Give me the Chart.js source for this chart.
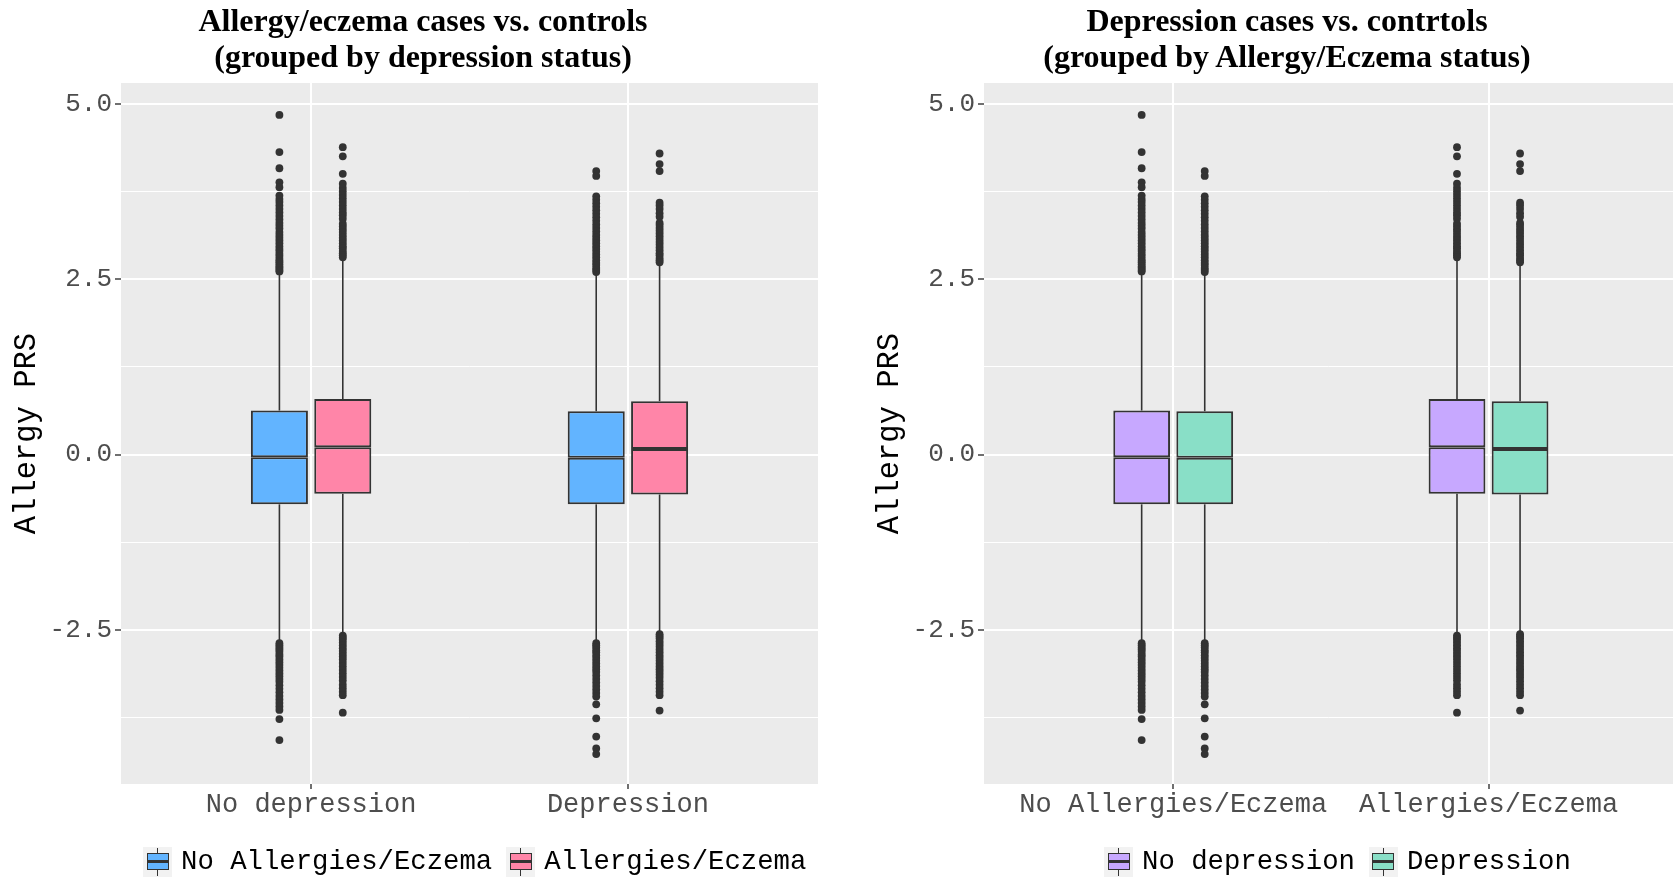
<!DOCTYPE html>
<html>
<head>
<meta charset="utf-8">
<title>Allergy PRS box plots</title>
<script src="https://cdn.jsdelivr.net/npm/chart.js@4.4.1/dist/chart.umd.min.js"></script>
<style>
  html, body { margin: 0; padding: 0; background: #ffffff; width: 1677px; height: 879px; overflow: hidden; }
  body { position: relative; }
  canvas { position: absolute; top: 0; }
  #leftChart { left: 0; }
  #rightChart { left: 863px; }
  .title {
    position: absolute; top: 2px; width: 800px; text-align: center;
    font-family: "Liberation Serif", "Times New Roman", serif; font-weight: bold;
    font-size: 32px; line-height: 36px; color: #000;
  }
  .legend {
    position: absolute; top: 847px; display: flex; align-items: flex-start;
    font-family: "Liberation Mono", monospace; font-size: 27.3px; line-height: 30px;
    color: #000; white-space: nowrap;
  }
  .item { display: flex; align-items: flex-start; margin-right: 14px; }
  .key { position: relative; width: 29px; height: 30px; background: #F2F2F2; margin-right: 9px; flex: none; }
  .key .wh { position: absolute; left: 13.8px; top: 1px; width: 1.4px; height: 28px; background: #333333; }
  .key .bx { position: absolute; left: 3.5px; top: 6px; width: 22px; height: 17px; box-sizing: border-box; border: 1.5px solid #333333; }
  .key .md { position: absolute; left: 3.5px; top: 13.3px; width: 22px; height: 2.6px; background: #333333; }
</style>
</head>
<body>
<canvas id="leftChart" width="838" height="879"></canvas>
<canvas id="rightChart" width="814" height="879"></canvas>
<div class="title" id="leftTitle" style="left:23px"></div>
<div class="title" id="rightTitle" style="left:887px"></div>
<div class="legend" id="leftLegend" style="left:143px"></div>
<div class="legend" id="rightLegend" style="left:1104px"></div>

<script>
// ---- Group labels -------------------------------------------------------
const depressionGroups = ['No depression', 'Depression'];
const allergyGroups = ['No Allergies/Eczema', 'Allergies/Eczema'];

// ---- Allergy PRS summaries: [lower whisker, Q1, median, Q3, upper whisker]
const noAllergyNoDep = [-2.66, -0.71, -0.038, 0.627, 2.58];
const allergyNoDep   = [-2.57, -0.56, 0.104, 0.79, 2.80];
const noAllergyDep   = [-2.68, -0.71, -0.047, 0.617, 2.58];
const allergyDep     = [-2.55, -0.57, 0.08, 0.76, 2.73];

// ---- Outlying PRS values beyond the whiskers ----------------------------
const noAllergyNoDepOut = [
  4.84, 4.31, 4.08, 3.88, 3.81, 3.69, 3.64, 3.60, 3.55, 3.50, 3.45, 3.40, 3.35,
  3.30, 3.26, 3.22, 3.17, 3.13, 3.09, 3.05, 3.01, 2.97, 2.93, 2.90, 2.86, 2.83,
  2.79, 2.76, 2.74, 2.71, 2.68, 2.66, 2.63, 2.61,
  -2.69, -2.72, -2.75, -2.78, -2.81, -2.85, -2.88, -2.92, -2.96, -3.00, -3.04,
  -3.08, -3.12, -3.16, -3.20, -3.24, -3.29, -3.34, -3.39, -3.44, -3.49, -3.54,
  -3.59, -3.64, -3.77, -4.07
];
const allergyNoDepOut = [
  4.38, 4.25, 4.00, 3.86, 3.80, 3.75, 3.70, 3.65, 3.60, 3.55, 3.50, 3.45, 3.41,
  3.36, 3.29, 3.25, 3.21, 3.17, 3.13, 3.09, 3.05, 3.01, 2.97, 2.94, 2.90, 2.87,
  2.84, 2.81,
  -2.58, -2.61, -2.64, -2.68, -2.72, -2.76, -2.80, -2.84, -2.88, -2.92, -2.97,
  -3.02, -3.07, -3.12, -3.17, -3.22, -3.28, -3.33, -3.38, -3.43, -3.68
];
const noAllergyDepOut = [
  4.04, 3.97, 3.68, 3.63, 3.58, 3.53, 3.48, 3.43, 3.38, 3.33, 3.28, 3.23, 3.18,
  3.13, 3.09, 3.05, 3.01, 2.97, 2.93, 2.89, 2.85, 2.81, 2.77, 2.73, 2.70, 2.66,
  2.63, 2.60,
  -2.69, -2.72, -2.75, -2.79, -2.82, -2.86, -2.90, -2.94, -2.98, -3.02, -3.06,
  -3.10, -3.15, -3.20, -3.25, -3.30, -3.35, -3.40, -3.45, -3.56, -3.76, -4.02,
  -4.19, -4.27
];
const allergyDepOut = [
  4.29, 4.14, 4.04, 3.59, 3.55, 3.50, 3.44, 3.39, 3.30, 3.27, 3.23, 3.19, 3.15,
  3.11, 3.07, 3.03, 2.99, 2.95, 2.91, 2.87, 2.84, 2.80, 2.77, 2.74,
  -2.56, -2.59, -2.62, -2.66, -2.70, -2.74, -2.78, -2.82, -2.86, -2.90, -2.94,
  -2.98, -3.02, -3.06, -3.10, -3.14, -3.18, -3.23, -3.28, -3.33, -3.38, -3.43,
  -3.65
];

// ---- Y axis ticks (major labelled, minor unlabelled) ----------------------
const yGridValues = [-3.75, -2.5, -1.25, 0, 1.25, 2.5, 3.75, 5];
const yLabelValues = [-2.5, 0, 2.5, 5];

// ---- Fill colours --------------------------------------------------------
const allergyColors = ['#62B4FF', '#FF85A8'];      // No Allergies/Eczema, Allergies/Eczema
const depressionColors = ['#C7A8FF', '#89DFC7'];   // No depression, Depression

const DODGE = 0.1;          // half the distance between paired boxes (x units)
const INK = '#333333';
const MONO = "'Liberation Mono', monospace";

function isMajor(v) { return yLabelValues.some(m => Math.abs(m - v) < 1e-9); }

// One box plot series across both x groups: box halves, whiskers, outliers
function seriesDatasets(name, color, offset, stats, outliers) {
  const halves = [], whiskers = [], points = [];
  stats.forEach((s, g) => {
    const x = g + 1 + offset;
    const [lo, q1, med, q3, hi] = s;
    halves.push({ x, y: [q1, med] }, { x, y: [med, q3] });
    whiskers.push({ x, y: [lo, q1] }, { x, y: [q3, hi] });
    outliers[g].forEach(v => points.push({ x, y: v }));
  });
  return [
    { type: 'bar', label: name, data: halves, backgroundColor: color,
      borderColor: INK, borderWidth: 2, borderSkipped: false,
      grouped: false, categoryPercentage: 1, barPercentage: 0.9, order: 1 },
    { type: 'bar', label: name + ' whiskers', data: whiskers,
      backgroundColor: INK, borderWidth: 0, grouped: false,
      categoryPercentage: 1, barPercentage: 0.9, maxBarThickness: 1.6, order: 2 },
    { type: 'scatter', label: name + ' outliers', data: points,
      pointRadius: 3.9, pointBackgroundColor: INK, pointBorderWidth: 0,
      showLine: false, order: 0 }
  ];
}

const panelBackground = {
  id: 'panelBackground',
  beforeDraw(chart) {
    const { ctx, chartArea: a } = chart;
    ctx.save();
    ctx.fillStyle = '#EBEBEB';
    ctx.fillRect(a.left, a.top, a.right - a.left, a.bottom - a.top);
    ctx.restore();
  }
};

function makeChart(canvasId, groups, datasets, xMax, padRight) {
  return new Chart(document.getElementById(canvasId), {
    type: 'bar',
    data: { datasets },
    options: {
      responsive: false,
      animation: false,
      events: [],
      layout: { padding: { top: 83, bottom: 0, left: 0, right: padRight } },
      plugins: { legend: { display: false }, tooltip: { enabled: false }, title: { display: false } },
      scales: {
        x: {
          type: 'linear', min: 0.4, max: xMax, offset: false,
          afterBuildTicks: a => { a.ticks = groups.map((_, i) => ({ value: i + 1 })); },
          afterFit: a => { a.height = 95; },
          ticks: { callback: (v, i) => groups[i], color: '#4D4D4D',
                   font: { family: MONO, size: 27 }, padding: 0,
                   maxRotation: 0, autoSkip: false },
          grid: { offset: false, color: '#FFFFFF', lineWidth: 2, tickColor: INK,
                  tickLength: 5, tickWidth: 1.4 },
          border: { display: false }
        },
        y: {
          type: 'linear', min: -4.696, max: 5.295,
          afterBuildTicks: a => { a.ticks = yGridValues.map(v => ({ value: v })); },
          afterFit: a => { a.width = 121; },
          ticks: { callback: v => isMajor(v) ? v.toFixed(1) : '', color: '#4D4D4D',
                   font: { family: MONO, size: 26 }, padding: 3, autoSkip: false },
          grid: {
            color: '#FFFFFF',
            lineWidth: c => (c.tick && isMajor(c.tick.value)) ? 2 : 1,
            tickColor: c => (c.tick && isMajor(c.tick.value)) ? INK : 'rgba(0,0,0,0)',
            tickLength: 6, tickWidth: 1.4
          },
          border: { display: false },
          title: { display: true, text: 'Allergy PRS', color: '#000000',
                   font: { family: MONO, size: 30.5 }, padding: { top: 8.7, bottom: 0 } }
        }
      }
    },
    plugins: [panelBackground]
  });
}

// Left: allergy/eczema status compared within depression groups
makeChart('leftChart', depressionGroups, [
  ...seriesDatasets(allergyGroups[0], allergyColors[0], -DODGE,
      [noAllergyNoDep, noAllergyDep], [noAllergyNoDepOut, noAllergyDepOut]),
  ...seriesDatasets(allergyGroups[1], allergyColors[1], DODGE,
      [allergyNoDep, allergyDep], [allergyNoDepOut, allergyDepOut])
], 2.6, 20);

// Right: depression status compared within allergy/eczema groups
makeChart('rightChart', allergyGroups, [
  ...seriesDatasets(depressionGroups[0], depressionColors[0], -DODGE,
      [noAllergyNoDep, allergyNoDep], [noAllergyNoDepOut, allergyNoDepOut]),
  ...seriesDatasets(depressionGroups[1], depressionColors[1], DODGE,
      [noAllergyDep, allergyDep], [noAllergyDepOut, allergyDepOut])
], 2.585, 0);

// Titles
document.getElementById('leftTitle').innerHTML =
  'Allergy/eczema cases vs. controls<br>(grouped by depression status)';
document.getElementById('rightTitle').innerHTML =
  'Depression cases vs. contrtols<br>(grouped by Allergy/Eczema status)';

// Legends with box-plot keys
function buildLegend(id, names, colors) {
  const el = document.getElementById(id);
  names.forEach((n, i) => {
    const item = document.createElement('div');
    item.className = 'item';
    const key = document.createElement('div');
    key.className = 'key';
    key.innerHTML = '<div class="wh"></div><div class="bx" style="background:' + colors[i] +
                    '"></div><div class="md"></div>';
    const txt = document.createElement('span');
    txt.textContent = n;
    item.appendChild(key);
    item.appendChild(txt);
    el.appendChild(item);
  });
}
buildLegend('leftLegend', allergyGroups, allergyColors);
buildLegend('rightLegend', depressionGroups, depressionColors);
</script>
</body>
</html>
